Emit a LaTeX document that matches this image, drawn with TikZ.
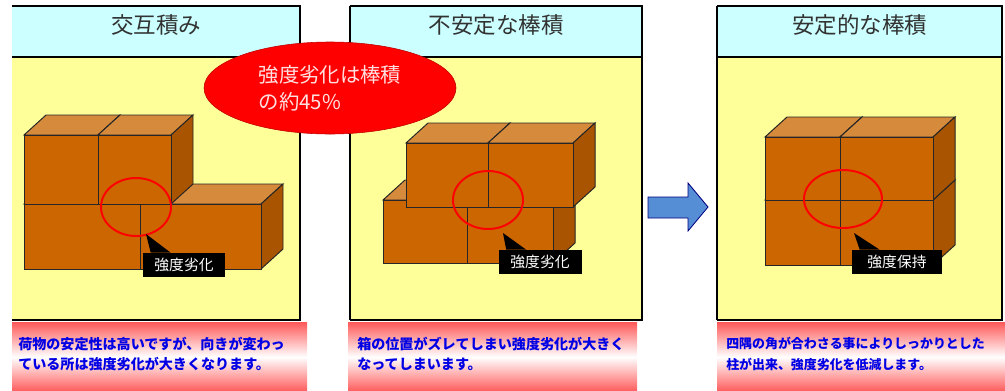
\documentclass[tikz,border=0pt]{standalone}
\usepackage{fontspec}
\setmainfont{Noto Sans CJK JP}
\usetikzlibrary{calc}
\usetikzlibrary{shapes.geometric}

\definecolor{bandcyan}{RGB}{204,255,255}
\definecolor{padyellow}{RGB}{255,255,153}
\definecolor{cratefront}{RGB}{204,102,0}
\definecolor{cratetop}{RGB}{214,138,60}
\definecolor{crateside}{RGB}{168,84,0}
\definecolor{notered}{RGB}{255,88,88}
\definecolor{arrowblue}{RGB}{85,142,213}
\definecolor{inkgray}{RGB}{50,50,50}

% one carton: x, y of the front top-left corner, width, height
\newcommand{\crate}[4]{%
 \filldraw[topface] (#1,#2) --++(22,-20) --++(#3,0) --++(-22,20) -- cycle;
 \filldraw[sideface] ({#1+#3},#2) --++(22,-20) --++(0,#4) --++(-22,20) -- cycle;
 \filldraw[frontface] (#1,#2) rectangle ++(#3,#4);
}

\begin{document}
\begin{tikzpicture}[x=0.025cm, y=-0.025cm,
  frame/.style={black, line width=1.6pt},
  title/.style={text=inkgray, font=\fontsize{16}{18}\selectfont},
  frontface/.style={fill=cratefront, draw=black!85, line width=0.7pt},
  topface/.style={fill=cratetop, draw=black!85, line width=0.7pt},
  sideface/.style={fill=crateside, draw=black!85, line width=0.7pt},
  ring/.style={red, line width=1.4pt},
  callout/.style={fill=black, text=white, inner sep=0pt, minimum height=24*0.025cm,
    font=\fontsize{10.5}{12}\selectfont},
  note/.style={text=blue!90!black, align=left, inner sep=0pt,
    font=\bfseries\fontsize{10}{14.5}\selectfont}]
\useasboundingbox (0,0) rectangle (1005,390);

\foreach \l/\r/\t/\n in {12/300/交互積み/p1, 350/642/不安定な棒積/p2, 717/1002/安定的な棒積/p3} {
 \fill[padyellow] (\l,57) rectangle (\r,320);
 \fill[bandcyan] (\l,6) rectangle (\r,57);
 \draw[frame] (\l,57) -- (\r,57);
 \draw[frame] (\l,6) -- (\r,6) -- (\r,320) -- (\l,320);
 \node[title] (\n) at ({(\l+\r)/2},25) {\t};
}
\draw[frame] (350,6) -- (350,320);
\draw[frame] (717,6) -- (717,320);

% alternating stack
\crate{24}{204}{116}{65}
\crate{140}{204}{121}{65}
\crate{24}{135}{74}{69}
\crate{98}{135}{73}{69}

% column stack, shifted
\crate{383}{200}{84}{63}
\crate{467}{200}{86}{63}
\crate{406}{143}{82}{64}
\crate{488}{143}{85}{64}

% column stack, corners aligned
\crate{765}{200}{75}{65}
\crate{840}{200}{93}{65}
\crate{765}{137}{75}{63}
\crate{840}{137}{93}{63}

\draw[ring] (136,207) ellipse [x radius=35, y radius=29];
\draw[ring] (488,200) ellipse [x radius=35, y radius=29];
\draw[ring] (843,199) ellipse [x radius=39, y radius=29];

\node[callout, minimum width=82*0.025cm] (c1) at (184,265) {強度劣化};
\node[callout, minimum width=83*0.025cm] (c2) at (540,262) {強度劣化};
\node[callout, minimum width=90*0.025cm] (c3) at (897,262) {強度保持};
\coordinate (t1) at (146,234);
\coordinate (t2) at (503,233);
\coordinate (t3) at (854,233);
\foreach \i in {1,2,3} {
 \fill[black] (t\i) -- ($(c\i.north west)+(8,0)$) -- ($(c\i.north west)+(28,0)$) -- cycle;
}

\filldraw[fill=arrowblue, draw=blue!50!black, line width=0.6pt]
 (648,197) -- (688,197) -- (688,183) -- (708,207) -- (688,231) -- (688,218) -- (648,218) -- cycle;

\node[ellipse, fill=red, draw=red!75!black, text=red!12, align=left, inner sep=0pt,
  minimum width=252*0.025cm, minimum height=92*0.025cm,
  font=\fontsize{14.5}{19}\selectfont] (rate) at (330,88) {強度劣化は棒積\\の約45\%};

\shade[top color=notered, bottom color=notered, middle color=white] (12,322) rectangle (307,392);
\shade[top color=notered, bottom color=notered, middle color=white] (348,322) rectangle (637,392);
\shade[top color=notered, bottom color=notered, middle color=white] (717,322) rectangle (1005,392);
\node[note, anchor=west] (n1) at (18,354) {荷物の安定性は高いですが、向きが変わっ\\ている所は強度劣化が大きくなります。};
\node[note, anchor=west] (n2) at (357,354) {箱の位置がズレてしまい強度劣化が大きく\\なってしまいます。};
\node[note, anchor=west, font=\bfseries\fontsize{9.2}{14.5}\selectfont] (n3) at (726,354)
 {四隅の角が合わさる事によりしっかりとした\\柱が出来、強度劣化を低減します。};
\end{tikzpicture}
\end{document}
